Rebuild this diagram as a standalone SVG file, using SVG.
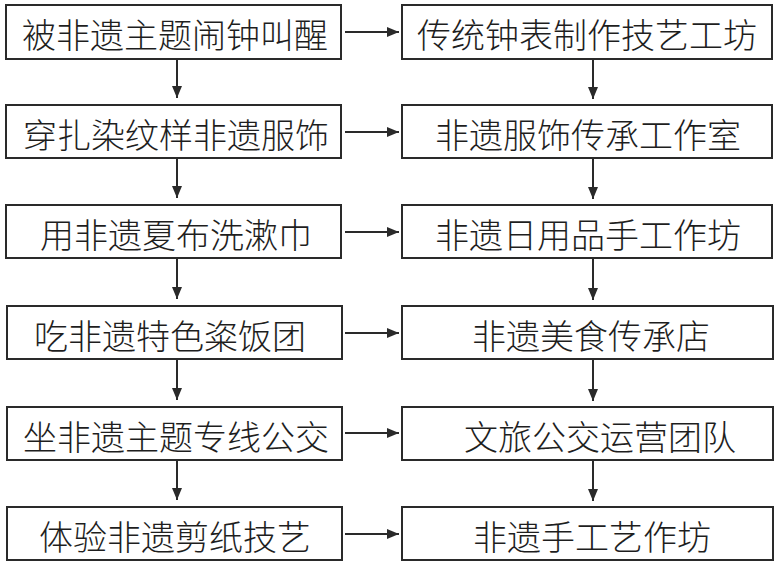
<svg xmlns="http://www.w3.org/2000/svg" width="782" height="563" viewBox="0 0 782 563">
<defs>
<style>
.box{fill:#fff;stroke:#2a2a2a;stroke-width:2}
.t{font-family:"Noto Sans CJK SC","Noto Sans CJK JP",sans-serif;font-size:34px;font-weight:300;fill:#1e1e1e;text-anchor:middle;dominant-baseline:central}
.c{stroke:#2a2a2a;stroke-width:2;fill:none;marker-end:url(#ah)}
</style>
<marker id="ah" viewBox="0 0 12 10" refX="12" refY="5" markerWidth="12" markerHeight="10" markerUnits="userSpaceOnUse" orient="auto">
<path d="M0,0 L12,5 L0,10 Z" fill="#2a2a2a"/>
</marker>
</defs>
<rect width="782" height="563" fill="#fff"/>
<g id="connectors">
<path class="c" d="M345,32 H399"/>
<path class="c" d="M345,132 H399"/>
<path class="c" d="M345,232 H399"/>
<path class="c" d="M345,333 H399"/>
<path class="c" d="M345,433 H399"/>
<path class="c" d="M345,534 H399"/>
<path class="c" d="M177,59 V98"/>
<path class="c" d="M177,158 V198"/>
<path class="c" d="M177,258 V299"/>
<path class="c" d="M177,359 V400"/>
<path class="c" d="M177,460 V500"/>
<path class="c" d="M593,59 V99"/>
<path class="c" d="M593,158 V199"/>
<path class="c" d="M593,258 V300"/>
<path class="c" d="M593,359 V401"/>
<path class="c" d="M593,460 V501"/>
</g>
<g id="L1"><rect class="box" x="6" y="5" width="335" height="54"/><text class="t" x="175" y="33">被非遗主题闹钟叫醒</text></g>
<g id="L2"><rect class="box" x="6" y="105" width="335" height="53"/><text class="t" x="176" y="133">穿扎染纹样非遗服饰</text></g>
<g id="L3"><rect class="box" x="6" y="205" width="335" height="53"/><text class="t" x="176" y="233">用非遗夏布洗漱巾</text></g>
<g id="L4"><rect class="box" x="7" y="306" width="335" height="53"/><text class="t" x="170" y="334">吃非遗特色粢饭团</text></g>
<g id="L5"><rect class="box" x="7" y="407" width="335" height="53"/><text class="t" x="176" y="435">坐非遗主题专线公交</text></g>
<g id="L6"><rect class="box" x="7" y="507" width="335" height="53"/><text class="t" x="175" y="535">体验非遗剪纸技艺</text></g>
<g id="R1"><rect class="box" x="402" y="5" width="370" height="54"/><text class="t" x="587" y="33">传统钟表制作技艺工坊</text></g>
<g id="R2"><rect class="box" x="402" y="105" width="370" height="53"/><text class="t" x="588" y="133">非遗服饰传承工作室</text></g>
<g id="R3"><rect class="box" x="402" y="205" width="370" height="53"/><text class="t" x="588" y="233">非遗日用品手工作坊</text></g>
<g id="R4"><rect class="box" x="402" y="306" width="371" height="53"/><text class="t" x="591" y="334">非遗美食传承店</text></g>
<g id="R5"><rect class="box" x="402" y="407" width="371" height="53"/><text class="t" x="600" y="435">文旅公交运营团队</text></g>
<g id="R6"><rect class="box" x="402" y="507" width="371" height="53"/><text class="t" x="592" y="535">非遗手工艺作坊</text></g>
</svg>
